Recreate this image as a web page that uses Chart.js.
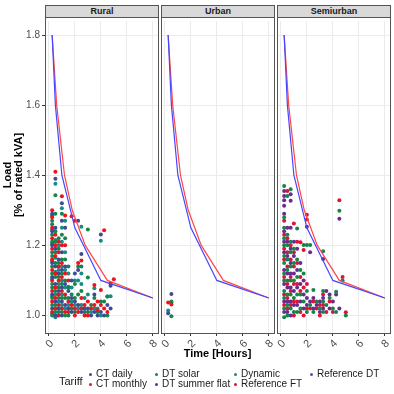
<!DOCTYPE html>
<html>
<head>
<meta charset="utf-8">
<script src="https://cdn.jsdelivr.net/npm/chart.js@4"></script>
<style>
  body { margin: 0; background: #fff; font-family: "Liberation Sans", Arial, sans-serif; }
  #wrap { position: relative; width: 394px; height: 394px; overflow: hidden; background: #fff; }
  canvas { position: absolute; }
  .strip { position: absolute; top: 5px; height: 13px; box-sizing: border-box; border: 1px solid #555;
           background: #d9d9d9; font-weight: bold; font-size: 9px; color: #1a1a1a; text-align: center; line-height: 11px; }
  .frame { position: absolute; top: 17px; height: 317px; box-sizing: border-box; border: 1px solid #555; pointer-events: none; }
  .ttl { position: absolute; font-weight: bold; font-size: 11px; color: #000; text-align: center; }
  .lg { position: absolute; font-size: 10px; color: #1a1a1a; height: 12px; line-height: 12px; white-space: nowrap; }
  .dot { position: absolute; width: 3px; height: 3px; border-radius: 50%; }
</style>
</head>
<body>
<div id="wrap"></div>
<script>
// tariffs + colours
const tariffs = ['CT daily', 'CT monthly', 'DT solar', 'DT summer flat', 'Dynamic', 'Reference FT', 'Reference DT'];
const tariffColors = ['#3e4b93', '#e8141e', '#17844c', '#6a2b8e', '#178c86', '#dc1437', '#5d4f9e'];

const panelNames = ['Rural', 'Urban', 'Semiurban'];
const xTicks = [0, 2, 4, 6, 8];
const yTicks = [1.0, 1.2, 1.4, 1.6, 1.8];

// reference overload curves (hours, load)
const blueHours = [0.25, 0.5, 1, 2, 4, 8];
const blueLoad = [1.8, 1.6, 1.4, 1.25, 1.1, 1.05];
const redHours = [0.25, 0.6, 1.2, 1.8, 2.8, 4.5, 8];
const redLoad = [1.8, 1.6, 1.4, 1.3, 1.2, 1.1, 1.05];

// Rural
const ruralCtDaily = [[0.25,1.29],[0.25,1.24],[0.25,1.20],[0.25,1.15],[0.25,1.11],[0.25,1.06],[0.25,1.02],
  [0.5,1.39],[0.5,1.25],[0.5,1.19],[0.5,1.14],[0.5,1.09],[0.5,1.04],[0.5,1.00],
  [0.75,1.16],[0.75,1.12],[0.75,1.07],[0.75,1.02],
  [1,1.32],[1,1.27],[1,1.18],[1,1.13],[1,1.08],[1,1.04],[1,1.00],
  [1.25,1.25],[1.25,1.14],[1.25,1.09],[1.25,1.03],
  [1.5,1.07],[1.5,1.02],[1.75,1.10],[1.75,1.05],[1.75,1.01],[2,1.12],[2,1.04],[2.25,1.27],[2.25,1.13],[2.25,1.03],
  [2.5,1.175],[2.5,1.01],[2.75,1.02],[3,1.02],[3.25,1.0],[3.5,1.06],[3.5,1.01],[3.75,1.0],[4,1.231],[4,1.01],[4.25,1.0],
  [4.5,1.03],[4.75,1.085],[4.75,1.02]];
const ruralCtMonthly = [[0.25,1.30],[0.25,1.28],[0.25,1.25],[0.25,1.22],[0.25,1.19],[0.25,1.16],[0.25,1.13],[0.25,1.10],[0.25,1.07],[0.25,1.04],[0.25,1.01],
  [0.5,1.41],[0.5,1.23],[0.5,1.20],[0.5,1.17],[0.5,1.12],[0.5,1.08],[0.5,1.05],[0.5,1.02],
  [0.75,1.21],[0.75,1.18],[0.75,1.14],[0.75,1.10],[0.75,1.06],[0.75,1.03],[0.75,1.00],
  [1,1.34],[1,1.20],[1,1.15],[1,1.11],[1,1.07],[1,1.02],
  [1.25,1.285],[1.25,1.20],[1.25,1.12],[1.25,1.06],[1.25,1.01],
  [1.5,1.10],[1.5,1.04],[1.5,1.01],[1.75,1.283],[1.75,1.03],[2,1.27],[2,1.02],[2,1.0],
  [2.25,1.15],[2.25,1.01],[2.5,1.157],[2.5,1.05],[2.5,1.02],[2.75,1.03],[2.75,1.0],[3,1.04],[3,1.0],[3.25,1.02],
  [3.5,1.087],[3.5,1.03],[3.75,1.04],[3.75,1.015],[4,1.073],[4,1.03],[4.25,1.243],[4.25,1.02],[4.5,1.01],[4.75,1.091],[5,1.103]];
const ruralDtSolar = [[0.25,1.27],[0.25,1.26],[0.25,1.23],[0.25,1.21],[0.25,1.18],[0.25,1.17],[0.25,1.14],[0.25,1.12],[0.25,1.09],[0.25,1.08],[0.25,1.05],[0.25,1.03],[0.25,1.00],
  [0.5,1.343],[0.5,1.29],[0.5,1.24],[0.5,1.21],[0.5,1.18],[0.5,1.15],[0.5,1.11],[0.5,1.07],[0.5,1.03],[0.5,1.01],
  [0.75,1.22],[0.75,1.19],[0.75,1.15],[0.75,1.11],[0.75,1.08],[0.75,1.05],[0.75,1.01],
  [1,1.29],[1,1.23],[1,1.16],[1,1.12],[1,1.09],[1,1.05],[1,1.01],
  [1.25,1.22],[1.25,1.16],[1.25,1.10],[1.25,1.05],[1.25,1.00],
  [1.5,1.14],[1.5,1.08],[1.5,1.05],[1.5,1.00],[1.75,1.06],[1.75,1.02],[2,1.09],[2,1.05],[2,1.01],
  [2.25,1.14],[2.25,1.06],[2.5,1.14],[2.5,1.07],[2.75,1.01],[3,1.245],[3,1.108],[3,1.01],[3.25,1.03],
  [3.5,1.05],[3.75,1.01],[4,1.04],[4.25,1.04],[4.5,1.054],[4.5,1.00]];
const ruralDynamic = [[0.25,1.285],[0.25,1.245],[0.25,1.205],[0.25,1.155],[0.25,1.105],[0.25,1.055],[0.25,1.005],
  [0.5,1.376],[0.5,1.215],[0.5,1.165],[0.5,1.125],[0.5,1.06],[0.5,0.995],
  [0.75,1.20],[0.75,1.13],[0.75,1.09],[0.75,1.04],
  [1,1.306],[1,1.25],[1,1.21],[1,1.14],[1,1.10],[1,1.06],[1,1.03],
  [1.25,1.27],[1.25,1.18],[1.25,1.13],[1.25,1.08],[1.25,1.02],
  [1.5,1.082],[1.5,1.12],[1.5,1.03],[1.75,1.08],[1.75,1.04],[2,1.10],[2,1.03],[2.25,1.10],[2.25,1.02],
  [2.5,1.253],[2.5,1.12],[2.5,1.09],[2.5,1.03],[2.75,1.05],[3,1.06],[3.25,1.01],[3.5,1.078],[3.5,1.02],
  [3.75,1.02],[4,1.213],[4,1.00],[4.5,1.054],[4.75,1.055]];

// Urban
const urbanCtDaily = [[0.25,1.006],[0.5,1.061]];
const urbanCtMonthly = [[0.25,1.037],[0.5,1.031]];
const urbanDtSolar = [[0.5,1.04],[0.5,0.998]];
const urbanDynamic = [[0.25,1.014],[0.5,1.037]];

// Semiurban
const semiDtSolar = [[0.25,1.369],[0.25,1.28],[0.25,1.25],[0.25,1.22],[0.25,1.20],[0.25,1.17],[0.25,1.15],[0.25,1.12],[0.25,1.10],[0.25,1.07],[0.25,1.05],[0.25,1.02],[0.25,0.995],
  [0.5,1.341],[0.5,1.23],[0.5,1.20],[0.5,1.16],[0.5,1.13],[0.5,1.10],[0.5,1.06],[0.5,1.03],[0.5,1.00],
  [0.75,1.36],[0.75,1.21],[0.75,1.18],[0.75,1.14],[0.75,1.10],[0.75,1.06],[0.75,1.02],
  [1,1.19],[1,1.15],[1,1.10],[1,1.05],[1,1.01],
  [1.25,1.248],[1.25,1.16],[1.25,1.11],[1.25,1.06],[1.25,1.01],
  [1.5,1.13],[1.5,1.06],[1.5,1.02],[1.75,1.201],[1.75,1.12],[1.75,1.04],[2,1.201],[2,1.07],[2,1.01],
  [2.25,1.201],[2.25,1.03],[2.5,1.073],[2.5,1.01],[2.75,1.04],[3,1.02],[3.25,1.183],[3.25,1.07],[3.25,1.04],[3.25,1.01],
  [3.5,1.03],[3.75,1.05],[4,1.02],[4.25,1.068],[4.25,1.01],[4.5,1.299],[4.75,1.10],[5,1.00]];
const semiDtSummerFlat = [[0.25,1.355],[0.25,1.341],[0.25,1.329],[0.25,1.313],[0.25,1.29],[0.25,1.24],[0.25,1.21],[0.25,1.18],[0.25,1.13],[0.25,1.09],[0.25,1.04],[0.25,1.01],
  [0.5,1.25],[0.5,1.21],[0.5,1.17],[0.5,1.12],[0.5,1.08],[0.5,1.04],[0.5,1.01],
  [0.75,1.346],[0.75,1.327],[0.75,1.25],[0.75,1.19],[0.75,1.15],[0.75,1.12],[0.75,1.08],[0.75,1.04],[0.75,1.00],
  [1,1.21],[1,1.17],[1,1.12],[1,1.07],[1,1.03],
  [1.25,1.19],[1.25,1.13],[1.25,1.08],[1.25,1.03],
  [1.5,1.15],[1.5,1.09],[1.5,1.04],[1.75,1.10],[1.75,1.06],[1.75,1.02],[2,1.253],[2,1.05],[2,1.03],
  [2.25,1.18],[2.25,1.04],[2.5,1.05],[2.5,1.02],[2.75,1.03],[3,1.04],[3,1.01],[3.25,1.161],[3.25,1.05],[3.25,1.02],
  [3.5,1.07],[3.75,1.06],[3.75,1.02],[4,1.04],[4.25,1.06],[4.5,1.276],[4.5,1.02]];
const semiReferenceFt = [[0.25,1.27],[0.25,1.23],[0.25,1.19],[0.25,1.16],[0.25,1.11],[0.25,1.06],[0.25,1.03],
  [0.5,1.355],[0.5,1.22],[0.5,1.18],[0.5,1.14],[0.5,1.09],[0.5,1.05],[0.5,1.02],
  [0.75,1.20],[0.75,1.16],[0.75,1.11],[0.75,1.07],[0.75,1.03],
  [1,1.262],[1,1.18],[1,1.14],[1,1.09],[1,1.04],[1,1.00],
  [1.25,1.21],[1.25,1.15],[1.25,1.09],[1.25,1.04],
  [1.5,1.209],[1.5,1.11],[1.5,1.07],[1.5,1.01],[1.75,1.187],[1.75,1.08],[1.75,1.00],
  [2,1.287],[2,1.274],[2,1.09],[2,1.02],[2.25,1.02],[2.5,1.04],[2.75,1.02],[3,1.03],[3,1.00],
  [3.25,1.06],[3.25,1.03],[3.5,1.01],[3.75,1.04],[4,1.01],[4.5,1.329],[4.75,1.11],[5,1.009]];

// which tariff each point array belongs to, per panel
const panelSeries = [
  [['CT daily', ruralCtDaily], ['CT monthly', ruralCtMonthly], ['DT solar', ruralDtSolar], ['Dynamic', ruralDynamic]],
  [['CT daily', urbanCtDaily], ['CT monthly', urbanCtMonthly], ['DT solar', urbanDtSolar], ['Dynamic', urbanDynamic]],
  [['DT solar', semiDtSolar], ['DT summer flat', semiDtSummerFlat], ['Reference FT', semiReferenceFt]]
];

Chart.defaults.font.family = '"Liberation Sans", Arial, sans-serif';
const wrap = document.getElementById('wrap');

// layout (pixels)
const panelLeft = [45, 161, 277];
const panelW = 113, panelTop = 17, panelH = 316, xAxisH = 28;

function el(cls, css, text) {
  const d = document.createElement('div');
  d.className = cls;
  Object.assign(d.style, css);
  if (text) d.textContent = text;
  wrap.appendChild(d);
  return d;
}

panelNames.forEach((name, p) => {
  const padL = p === 0 ? 0 : 10, yW = p === 0 ? 45 : 0, padR = 6;
  const cv = document.createElement('canvas');
  const w = padL + yW + panelW + padR, h = panelH + xAxisH;
  cv.width = w; cv.height = h;
  cv.style.left = (panelLeft[p] - padL - yW) + 'px';
  cv.style.top = panelTop + 'px';
  wrap.appendChild(cv);

  const datasets = [
    { data: blueHours.map((x, i) => ({ x, y: blueLoad[i] })), showLine: true, pointRadius: 0,
      borderColor: '#4646ff', borderWidth: 1.2, order: 0 },
    { data: redHours.map((x, i) => ({ x, y: redLoad[i] })), showLine: true, pointRadius: 0,
      borderColor: '#ff4646', borderWidth: 1.2, order: 0 }
  ];
  panelSeries[p].forEach(([tariff, pts]) => {
    const c = tariffColors[tariffs.indexOf(tariff)];
    datasets.push({ label: tariff, data: pts.map(([x, y]) => ({ x, y })), pointRadius: 2,
      pointBorderWidth: 0, backgroundColor: c, borderColor: c, order: 1 });
  });

  new Chart(cv, {
    type: 'scatter',
    data: { datasets },
    options: {
      responsive: false, animation: false, devicePixelRatio: 1,
      layout: { padding: { left: padL, right: padR, top: 0, bottom: 0 } },
      plugins: { legend: { display: false }, tooltip: { enabled: false } },
      scales: {
        x: {
          type: 'linear', min: -0.3, max: 8.4,
          afterBuildTicks: s => { s.ticks = xTicks.map(v => ({ value: v })); },
          afterFit: s => { s.height = xAxisH; s.paddingLeft = 0; s.paddingRight = 0; },
          grid: { color: '#ebebeb', lineWidth: 1, tickLength: 3, tickColor: '#333' },
          border: { display: false },
          ticks: { minRotation: 45, maxRotation: 45, padding: 1, labelOffset: 3,
                   color: '#4d4d4d', font: { size: 11 }, callback: v => String(v) }
        },
        y: {
          type: 'linear', min: 0.95, max: 1.84,
          afterBuildTicks: s => { s.ticks = yTicks.map(v => ({ value: v })); },
          afterFit: s => { s.width = yW; s.paddingTop = 0; s.paddingBottom = 0; },
          grid: { color: '#ebebeb', lineWidth: 1, drawTicks: p === 0, tickLength: 3, tickColor: '#333' },
          border: { display: false },
          ticks: { display: p === 0, padding: 2, color: '#4d4d4d', font: { size: 10 },
                   callback: v => v.toFixed(1) }
        }
      }
    }
  });

  el('frame', { left: panelLeft[p] + 'px', width: (panelW + 1) + 'px' });
  el('strip', { left: panelLeft[p] + 'px', width: (panelW + 1) + 'px' }, name);
});

// axis titles
el('ttl', { left: '160px', width: '115px', top: '347px', lineHeight: '12px' }, 'Time [Hours]');
const yt = el('ttl', { left: '-46px', top: '163px', width: '120px', height: '24px', lineHeight: '11px',
  transform: 'rotate(-90deg)' });
yt.innerHTML = 'Load<br>[% of rated kVA]';

// legend
el('lg', { left: '59px', top: '375px', fontSize: '11px' }, 'Tariff');
const colDot = [90, 156, 235, 311], colText = [96, 162, 241, 317], rowY = [374, 384];
tariffs.forEach((t, i) => {
  const col = Math.floor(i / 2), row = i % 2;
  el('dot', { left: (colDot[col] - 1.5) + 'px', top: (rowY[row] - 1.5) + 'px', background: tariffColors[i] });
  el('lg', { left: colText[col] + 'px', top: (rowY[row] - 6) + 'px' }, t);
});
</script>
</body>
</html>
